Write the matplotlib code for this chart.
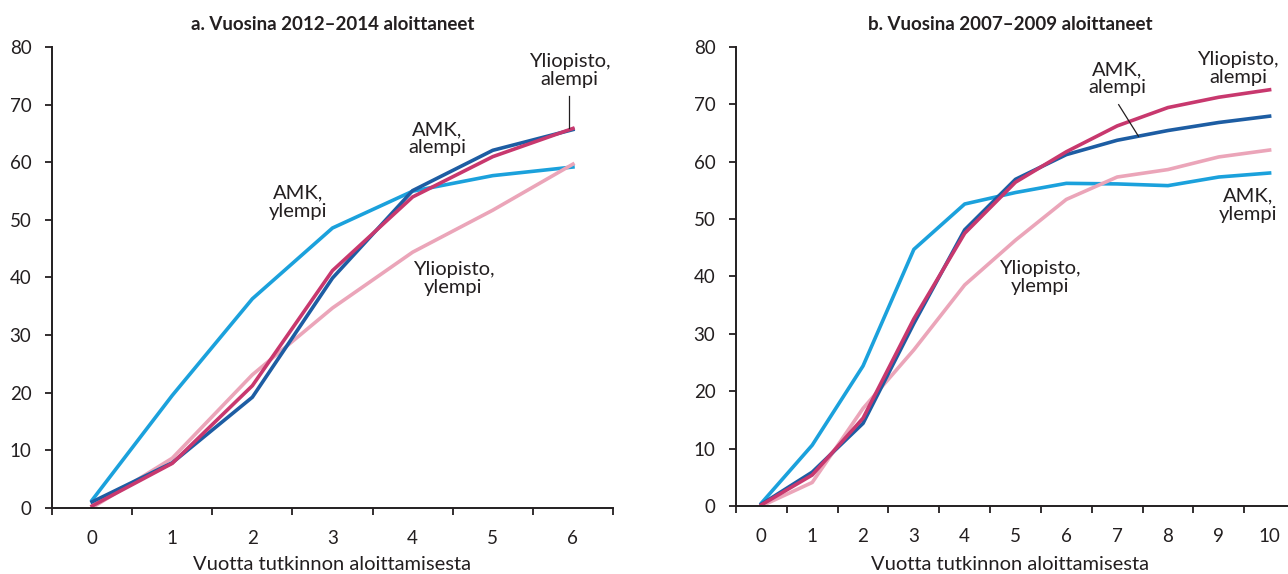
import matplotlib
matplotlib.use("Agg")
import matplotlib.pyplot as plt
import numpy as np

plt.rcParams['font.family'] = ['Lato', 'DejaVu Sans']

# Panel a: 2012-2014 starters
years_a = [0, 1, 2, 3, 4, 5, 6]
amk_ylempi_a = [1.3, 19.5, 36.3, 48.6, 55.0, 57.7, 59.2]
amk_alempi_a = [1.0, 7.8, 19.2, 39.9, 55.1, 62.1, 65.7]
yo_alempi_a = [0.3, 7.7, 21.2, 41.2, 54.0, 61.0, 65.9]
yo_ylempi_a = [0.0, 8.6, 23.1, 34.7, 44.4, 51.7, 59.7]

# Panel b: 2007-2009 starters
years_b = [0, 1, 2, 3, 4, 5, 6, 7, 8, 9, 10]
amk_ylempi_b = [0.5, 10.6, 24.4, 44.7, 52.6, 54.6, 56.2, 56.1, 55.8, 57.3, 58.0]
amk_alempi_b = [0.3, 5.9, 14.4, 31.8, 48.1, 56.9, 61.2, 63.7, 65.4, 66.8, 67.9]
yo_alempi_b = [0.2, 5.4, 15.3, 32.6, 47.5, 56.4, 61.7, 66.2, 69.4, 71.2, 72.5]
yo_ylempi_b = [0.0, 4.1, 17.0, 27.2, 38.5, 46.3, 53.4, 57.3, 58.6, 60.8, 62.0]

titles = ["a. Vuosina 2012\u20132014 aloittaneet", "b. Vuosina 2007\u20132009 aloittaneet"]
xlabel = "Vuotta tutkinnon aloittamisesta"
yticks = [0, 10, 20, 30, 40, 50, 60, 70, 80]

C_LB = "#1BA1DC"
C_DB = "#1D5DA3"
C_CR = "#C8386E"
C_PK = "#EBA5B9"
TXT = "#231F20"

W, H = 1288, 574
fig = plt.figure(figsize=(W / 100, H / 100), dpi=100)
axA = fig.add_axes([52 / W, (H - 507.7) / H, 561 / W, (507.7 - 47.3) / H])
axB = fig.add_axes([736 / W, (H - 506) / H, 559 / W, (506 - 46.7) / H])

lw = 2.6
FS_TICK = 13.5
FS_LAB = 14.5

def style(ax, years):
    n = len(years)
    ax.set_xlim(-0.5, n - 0.5)
    ax.set_ylim(0, 80)
    ax.set_yticks(yticks)
    ax.set_xticks(years)
    ax.set_xticks(np.arange(-0.5, n, 1.0), minor=True)
    ax.tick_params(axis='x', which='major', length=0, pad=16, labelsize=FS_TICK, colors=TXT)
    ax.tick_params(axis='x', which='minor', length=4.8, width=1.3, direction='out', color=TXT)
    ax.tick_params(axis='y', length=4.8, width=1.3, direction='out', labelsize=FS_TICK, colors=TXT, pad=10)
    for s in ['top', 'right']:
        ax.spines[s].set_visible(False)
    for s in ['left', 'bottom']:
        ax.spines[s].set_color(TXT)
        ax.spines[s].set_linewidth(1.4)

lab = dict(fontsize=FS_LAB, color=TXT, ha='center', va='center', linespacing=1.08)

# Panel a
axA.plot(years_a, amk_ylempi_a, color=C_LB, lw=lw)
axA.plot(years_a, yo_ylempi_a, color=C_PK, lw=lw)
axA.plot(years_a, amk_alempi_a, color=C_DB, lw=lw)
axA.plot(years_a, yo_alempi_a, color=C_CR, lw=lw)
style(axA, years_a)
axA.text(5.955, 75.9, "Yliopisto,\nalempi", **lab)
axA.plot([5.955, 5.955], [65.9, 71.6], color=TXT, lw=0.9)
axA.text(4.31, 64.1, "AMK,\nalempi", **lab)
axA.text(2.57, 53.1, "AMK,\nylempi", **lab)
axA.text(4.51, 39.8, "Yliopisto,\nylempi", **lab)

# Panel b
axB.plot(years_b, amk_ylempi_b, color=C_LB, lw=lw)
axB.plot(years_b, yo_ylempi_b, color=C_PK, lw=lw)
axB.plot(years_b, amk_alempi_b, color=C_DB, lw=lw)
axB.plot(years_b, yo_alempi_b, color=C_CR, lw=lw)
style(axB, years_b)
axB.spines['bottom'].set_clip_on(False)
axB.text(9.38, 76.2, "Yliopisto,\nalempi", **lab)
axB.text(7.0, 74.4, "AMK,\nalempi", **lab)
axB.plot([7.03, 7.42], [69.9, 64.4], color=TXT, lw=0.9)
axB.text(9.58, 52.4, "AMK,\nylempi", **lab)
axB.text(5.48, 39.8, "Yliopisto,\nylempi", **lab)

# Titles and axis labels
for xc, t in zip([333, 1010], titles):
    fig.text(xc / W, 1 - 24 / H, t, fontsize=13.5, fontweight='bold', color=TXT,
             ha='center', va='center')
for xc in [332, 1010]:
    fig.text(xc / W, 1 - 564 / H, xlabel, fontsize=FS_LAB, color=TXT,
             ha='center', va='center')

fig.savefig("out.png", dpi=100)
